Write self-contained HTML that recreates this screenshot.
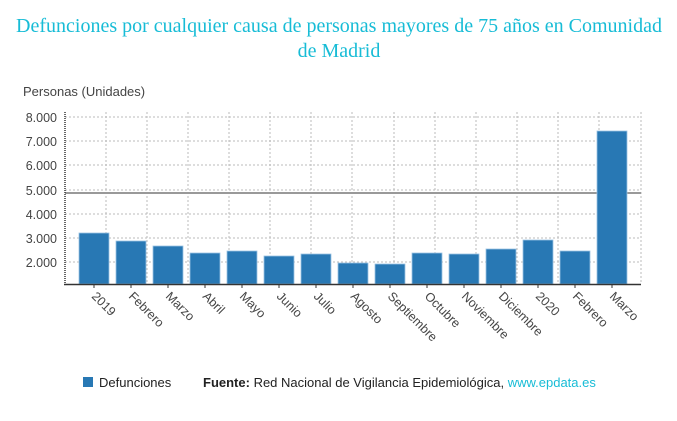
<!DOCTYPE html>
<html><head><meta charset="utf-8"><style>
body{margin:0;background:#fff;width:677px;height:421px;overflow:hidden}
svg{display:block}
</style></head><body>
<svg width="677" height="421" xmlns="http://www.w3.org/2000/svg">
<text x="339" y="32" text-anchor="middle" font-family="Liberation Serif, serif" font-size="20" fill="#17bcd6">Defunciones por cualquier causa de personas mayores de 75 años en Comunidad</text>
<text x="339" y="57" text-anchor="middle" font-family="Liberation Serif, serif" font-size="20" fill="#17bcd6">de Madrid</text>
<text x="23" y="96" font-family="Liberation Sans, sans-serif" font-size="13" fill="#444">Personas (Unidades)</text>
<g stroke="#bbb" stroke-dasharray="2,2" stroke-width="1">
<line x1="65" x2="641" y1="117" y2="117"/><line x1="65" x2="641" y1="141" y2="141"/>
<line x1="65" x2="641" y1="165" y2="165"/><line x1="65" x2="641" y1="190" y2="190"/>
<line x1="65" x2="641" y1="214" y2="214"/><line x1="65" x2="641" y1="238" y2="238"/>
<line x1="65" x2="641" y1="262" y2="262"/>
<line x1="106" x2="106" y1="112" y2="284"/><line x1="147" x2="147" y1="112" y2="284"/>
<line x1="188" x2="188" y1="112" y2="284"/><line x1="229" x2="229" y1="112" y2="284"/>
<line x1="270" x2="270" y1="112" y2="284"/><line x1="311" x2="311" y1="112" y2="284"/>
<line x1="352" x2="352" y1="112" y2="284"/><line x1="394" x2="394" y1="112" y2="284"/>
<line x1="435" x2="435" y1="112" y2="284"/><line x1="476" x2="476" y1="112" y2="284"/>
<line x1="517" x2="517" y1="112" y2="284"/><line x1="558" x2="558" y1="112" y2="284"/>
<line x1="599" x2="599" y1="112" y2="284"/><line x1="641" x2="641" y1="112" y2="284"/>
</g>
<g font-family="Liberation Sans, sans-serif" font-size="12.5" fill="#444" text-anchor="end">
<text x="57" y="122">8.000</text><text x="57" y="146">7.000</text><text x="57" y="170">6.000</text>
<text x="57" y="195">5.000</text><text x="57" y="219">4.000</text><text x="57" y="243">3.000</text>
<text x="57" y="267">2.000</text>
</g>
<line x1="65" x2="641" y1="193" y2="193" stroke="#999" stroke-width="2"/>
<g fill="#2878b4" stroke="#9cc4e4" stroke-width="0.8">
<rect x="79" y="233" width="30" height="51"/><rect x="116" y="241" width="30" height="43"/>
<rect x="153" y="246" width="30" height="38"/><rect x="190" y="253" width="30" height="31"/>
<rect x="227" y="251" width="30" height="33"/><rect x="264" y="256" width="30" height="28"/>
<rect x="301" y="254" width="30" height="30"/><rect x="338" y="263" width="30" height="21"/>
<rect x="375" y="264" width="30" height="20"/><rect x="412" y="253" width="30" height="31"/>
<rect x="449" y="254" width="30" height="30"/><rect x="486" y="249" width="30" height="35"/>
<rect x="523" y="240" width="30" height="44"/><rect x="560" y="251" width="30" height="33"/>
<rect x="597" y="131" width="30" height="153"/>
</g>
<line x1="65" x2="65" y1="112" y2="285" stroke="#333" stroke-width="1.5" stroke-dasharray="1,1"/>
<line x1="64" x2="641" y1="284.5" y2="284.5" stroke="#333" stroke-width="1.5"/>
<g stroke="#333" stroke-width="1">
<line x1="94" x2="94" y1="285" y2="288"/><line x1="131" x2="131" y1="285" y2="288"/><line x1="168" x2="168" y1="285" y2="288"/><line x1="205" x2="205" y1="285" y2="288"/><line x1="242" x2="242" y1="285" y2="288"/><line x1="279" x2="279" y1="285" y2="288"/><line x1="316" x2="316" y1="285" y2="288"/><line x1="353" x2="353" y1="285" y2="288"/><line x1="390" x2="390" y1="285" y2="288"/><line x1="427" x2="427" y1="285" y2="288"/><line x1="464" x2="464" y1="285" y2="288"/><line x1="501" x2="501" y1="285" y2="288"/><line x1="538" x2="538" y1="285" y2="288"/><line x1="575" x2="575" y1="285" y2="288"/><line x1="612" x2="612" y1="285" y2="288"/>
</g>
<g font-family="Liberation Sans, sans-serif" font-size="12.5" fill="#444">
<text transform="translate(91,297) rotate(45)">2019</text>
<text transform="translate(128,297) rotate(45)">Febrero</text>
<text transform="translate(165,297) rotate(45)">Marzo</text>
<text transform="translate(202,297) rotate(45)">Abril</text>
<text transform="translate(239,297) rotate(45)">Mayo</text>
<text transform="translate(276,297) rotate(45)">Junio</text>
<text transform="translate(313,297) rotate(45)">Julio</text>
<text transform="translate(350,297) rotate(45)">Agosto</text>
<text transform="translate(387,297) rotate(45)">Septiembre</text>
<text transform="translate(424,297) rotate(45)">Octubre</text>
<text transform="translate(461,297) rotate(45)">Noviembre</text>
<text transform="translate(498,297) rotate(45)">Diciembre</text>
<text transform="translate(535,297) rotate(45)">2020</text>
<text transform="translate(572,297) rotate(45)">Febrero</text>
<text transform="translate(609,297) rotate(45)">Marzo</text>
</g>
<rect x="83" y="377" width="10" height="10" fill="#2878b4"/>
<g font-family="Liberation Sans, sans-serif" font-size="13" fill="#222">
<text x="99" y="387">Defunciones</text>
<text x="203" y="387"><tspan font-weight="bold">Fuente:</tspan> Red Nacional de Vigilancia Epidemiológica, <tspan fill="#17bcd6">www.epdata.es</tspan></text>
</g>
</svg>
</body></html>
